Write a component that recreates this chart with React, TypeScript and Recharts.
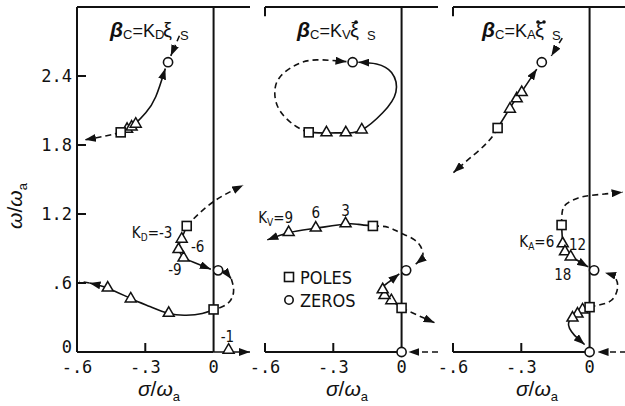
import React from 'react';
import { ComposedChart, Line, Scatter, XAxis, YAxis, ReferenceLine } from 'recharts';

// beta_C = K_D xi_S
const kdTopIn = [[-0.15, 2.75], [-0.188, 2.575]];
const kdUpperSolid = [[-0.408, 1.91], [-0.38, 1.945], [-0.36, 1.965], [-0.342, 1.99], [-0.298, 2.08], [-0.254, 2.22], [-0.212, 2.465]];
const kdUpperOut = [[-0.408, 1.91], [-0.47, 1.88], [-0.565, 1.845]];
const kdMidOut = [[-0.118, 1.096], [-0.057, 1.217], [0.009, 1.32], [0.07, 1.39], [0.13, 1.45]];
const kdMidSolid = [[-0.118, 1.096], [-0.14, 0.99], [-0.154, 0.9], [-0.132, 0.826], [-0.088, 0.78], [-0.012, 0.72]];
const kdLoopA = [[0.02, 0.71], [0.05, 0.695], [0.078, 0.635]];
const kdLoopB = [[0.078, 0.635], [0.088, 0.54], [0.075, 0.45], [0.04, 0.395], [0, 0.37]];
const kdLower = [[0, 0.37], [-0.05, 0.335], [-0.12, 0.32], [-0.197, 0.335], [-0.28, 0.395], [-0.364, 0.465], [-0.465, 0.555], [-0.545, 0.6]];
const kdLowerTail = [[-0.545, 0.6], [-0.59, 0.615]];
const kdReal = [[0, 0], [0.16, 0]];
const kdPoles = [[-0.408, 1.91], [-0.118, 1.096], [0, 0.37]];
const kdZeros = [[-0.2, 2.52], [0.02, 0.71]];
const kdGains = [[-0.38, 1.945], [-0.36, 1.965], [-0.342, 1.99], [-0.14, 0.99], [-0.154, 0.9], [-0.132, 0.826], [-0.197, 0.345], [-0.364, 0.47], [-0.465, 0.565], [0.066, 0.025]];
const kdNotes = [
  { x: -0.27, y: 1.035, k: 'D', v: '-3' },
  { x: -0.07, y: 0.913, v: '-6' },
  { x: -0.17, y: 0.713, v: '-9' },
  { x: 0.061, y: 0.13, v: '-1' },
];

// beta_C = K_V xi_S dot
const kvLoopSolid = [[-0.408, 1.91], [-0.33, 1.905], [-0.245, 1.905], [-0.175, 1.93], [-0.083, 2.08], [-0.025, 2.26], [-0.044, 2.43], [-0.11, 2.505], [-0.19, 2.52]];
const kvLoopDash = [[-0.408, 1.91], [-0.47, 1.97], [-0.535, 2.1], [-0.557, 2.25], [-0.535, 2.39], [-0.46, 2.5], [-0.373, 2.54], [-0.242, 2.525]];
const kvUpper = [[-0.126, 1.096], [-0.19, 1.11], [-0.246, 1.113], [-0.377, 1.076], [-0.496, 1.037], [-0.59, 0.975]];
const kvArc = [[-0.126, 1.096], [-0.06, 1.085], [-0.009, 1.04], [0.057, 0.975], [0.09, 0.89], [0.09, 0.82], [0.062, 0.765]];
const kvInner = [[0, 0.383], [-0.045, 0.45], [-0.075, 0.5], [-0.085, 0.555], [-0.055, 0.61], [-0.01, 0.68]];
const kvOut = [[0, 0.383], [0.07, 0.32], [0.145, 0.255]];
const kvReal = [[0.16, 0], [0.03, 0]];
const kvPoles = [[-0.408, 1.91], [-0.126, 1.096], [0, 0.383]];
const kvZeros = [[-0.215, 2.52], [0.02, 0.71], [0, 0]];
const kvGains = [[-0.33, 1.915], [-0.245, 1.915], [-0.175, 1.94], [-0.246, 1.123], [-0.377, 1.086], [-0.496, 1.047], [-0.045, 0.455], [-0.075, 0.5], [-0.083, 0.55]];
const kvNotes = [
  { x: -0.553, y: 1.165, k: 'V', v: '9' },
  { x: -0.377, y: 1.21, v: '6' },
  { x: -0.246, y: 1.226, v: '3' },
];

// beta_C = K_A xi_S double dot
const kaTopIn = [[-0.12, 2.73], [-0.168, 2.575]];
const kaUpperSolid = [[-0.404, 1.948], [-0.35, 2.12], [-0.32, 2.21], [-0.298, 2.265], [-0.232, 2.46]];
const kaUpperOut = [[-0.404, 1.948], [-0.45, 1.82], [-0.535, 1.67], [-0.598, 1.56]];
const kaMidOut = [[-0.123, 1.104], [-0.12, 1.22], [-0.1, 1.29], [-0.05, 1.34], [0, 1.36], [0.07, 1.375], [0.145, 1.39]];
const kaMidSolid = [[-0.123, 1.104], [-0.118, 0.95], [-0.108, 0.88], [-0.083, 0.835], [-0.04, 0.78], [-0.006, 0.74]];
const kaLoop = [[0, 0.39], [0.044, 0.41], [0.096, 0.45], [0.123, 0.556], [0.11, 0.65], [0.068, 0.69]];
const kaLower = [[0, 0.39], [-0.031, 0.37], [-0.053, 0.335], [-0.075, 0.3], [-0.092, 0.255], [-0.088, 0.205], [-0.066, 0.145], [-0.022, 0.065]];
const kaReal = [[0.16, 0], [0.035, 0]];
const kaPoles = [[-0.404, 1.948], [-0.123, 1.104], [0, 0.39]];
const kaZeros = [[-0.21, 2.52], [0.02, 0.71], [0, 0]];
const kaGains = [[-0.35, 2.12], [-0.32, 2.21], [-0.298, 2.265], [-0.118, 0.95], [-0.108, 0.88], [-0.083, 0.835], [-0.031, 0.374], [-0.053, 0.339], [-0.075, 0.304]];
const kaNotes = [
  { x: -0.232, y: 0.957, k: 'A', v: '6' },
  { x: -0.053, y: 0.93, v: '12' },
  { x: -0.118, y: 0.67, v: '18' },
];

const sigmaTicks = [-0.6, -0.3, 0];
const omegaTicks = [0, 0.6, 1.2, 1.8, 2.4];

const INK = '#111';
const PLOT_W = 173;
const TICK_FONT = "'DejaVu Sans Mono', monospace";
const TEXT_FONT = "'Liberation Sans Narrow', 'DejaVu Sans Condensed', 'Liberation Sans', sans-serif";
const TITLE_FONT = "'Liberation Sans', Arial, sans-serif";

const xy = (a: number[][]) => a.map(([x, y]) => ({ x, y }));

type Branch = { pts: number[][]; dash?: boolean; arrow?: boolean };

const kdBranches: Branch[] = [
  { pts: kdTopIn, dash: true, arrow: true },
  { pts: kdUpperSolid, arrow: true },
  { pts: kdUpperOut, dash: true, arrow: true },
  { pts: kdMidOut, dash: true, arrow: true },
  { pts: kdMidSolid, arrow: true },
  { pts: kdLoopA, dash: true, arrow: true },
  { pts: kdLoopB, dash: true },
  { pts: kdLower, arrow: true },
  { pts: kdLowerTail, dash: true },
  { pts: kdReal, arrow: true },
];
const kvBranches: Branch[] = [
  { pts: kvLoopSolid, arrow: true },
  { pts: kvLoopDash, dash: true, arrow: true },
  { pts: kvUpper, arrow: true },
  { pts: kvArc, dash: true, arrow: true },
  { pts: kvInner, arrow: true },
  { pts: kvOut, dash: true, arrow: true },
  { pts: kvReal, dash: true, arrow: true },
];
const kaBranches: Branch[] = [
  { pts: kaTopIn, dash: true, arrow: true },
  { pts: kaUpperSolid, arrow: true },
  { pts: kaUpperOut, dash: true, arrow: true },
  { pts: kaMidOut, dash: true, arrow: true },
  { pts: kaMidSolid, arrow: true },
  { pts: kaLoop, dash: true, arrow: true },
  { pts: kaLower, arrow: true },
  { pts: kaReal, dash: true, arrow: true },
];

const fmt = (v: number) => (v === 0 ? '0' : v.toFixed(1).replace('0.', '.'));

function SigmaTick(props: any) {
  const { x, y, payload } = props;
  const v = payload.value;
  return (
    <g>
      {v !== 0 && <line x1={x} x2={x} y1={y} y2={y - 9} stroke={INK} strokeWidth={2} />}
      <text x={x} y={y + 21} textAnchor="middle" fontFamily={TICK_FONT} fontSize={17} fill={INK}>
        {fmt(v)}
      </text>
    </g>
  );
}

function OmegaTick(props: any) {
  const { x, y, payload } = props;
  const v = payload.value;
  return (
    <g>
      {v !== 0 && <line x1={x} x2={x + 9} y1={y} y2={y} stroke={INK} strokeWidth={2} />}
      <text x={x - 5} y={v === 0 ? y + 1 : y + 6} textAnchor="end" fontFamily={TICK_FONT} fontSize={17} fill={INK}>
        {fmt(v)}
      </text>
    </g>
  );
}

const PoleShape = (p: any) => (
  <rect x={p.cx - 4.5} y={p.cy - 4.5} width={9} height={9} fill="#fff" stroke={INK} strokeWidth={1.6} />
);
const ZeroShape = (p: any) => <circle cx={p.cx} cy={p.cy} r={4.6} fill="#fff" stroke={INK} strokeWidth={1.6} />;
const GainShape = (p: any) => (
  <path
    d={`M${p.cx},${p.cy - 5.5} L${p.cx + 5.5},${p.cy + 4} L${p.cx - 5.5},${p.cy + 4} Z`}
    fill="#fff"
    stroke={INK}
    strokeWidth={1.5}
  />
);
const NoteShape = (p: any) => {
  const d = p.payload;
  return (
    <text x={p.cx} y={p.cy + 5} textAnchor="middle" fontFamily={TEXT_FONT} fontSize={15} fill={INK}>
      {d.k ? (
        <>
          K
          <tspan fontSize={10} dy={3}>
            {d.k}
          </tspan>
          <tspan dy={-3}>={d.v}</tspan>
        </>
      ) : (
        d.v
      )}
    </text>
  );
};

type PanelProps = {
  left: number;
  first?: boolean;
  branches: Branch[];
  poles: number[][];
  zeros: number[][];
  gains: number[][];
  notes: { x: number; y: number; k?: string; v: string }[];
};

function Panel({ left, first, branches, poles, zeros, gains, notes }: PanelProps) {
  const padLeft = first ? 0 : 15;
  const width = (first ? 77 : padLeft) + PLOT_W + 8;
  return (
    <div style={{ position: 'absolute', left, top: 0 }}>
      <ComposedChart width={width} height={406} margin={{ top: 7, right: 8, bottom: 0, left: padLeft }}>
        <XAxis
          type="number"
          dataKey="x"
          domain={[-0.6, 0.16]}
          ticks={sigmaTicks}
          interval={0}
          height={54}
          axisLine={false}
          tickLine={false}
          tickSize={0}
          tickMargin={0}
          tick={<SigmaTick />}
        />
        <YAxis
          type="number"
          dataKey="y"
          domain={[0, 3]}
          ticks={omegaTicks}
          interval={0}
          hide={!first}
          width={77}
          axisLine={false}
          tickLine={false}
          tickSize={0}
          tickMargin={0}
          tick={<OmegaTick />}
        />
        <ReferenceLine y={3} stroke={INK} strokeWidth={2} />
        <ReferenceLine x={0} stroke={INK} strokeWidth={2} />
        <ReferenceLine segment={[{ x: -0.6, y: 0 }, { x: 0, y: 0 }]} stroke={INK} strokeWidth={2} />
        {first ? (
          <ReferenceLine x={-0.6} stroke={INK} strokeWidth={2} />
        ) : (
          <ReferenceLine segment={[{ x: -0.6, y: 2.92 }, { x: -0.6, y: 3 }]} stroke={INK} strokeWidth={2} />
        )}
        {branches.map((b, i) => (
          <Line
            key={i}
            data={xy(b.pts)}
            dataKey="y"
            type="natural"
            stroke={INK}
            strokeWidth={1.6}
            strokeDasharray={b.dash ? '6 4' : undefined}
            markerEnd={b.arrow ? 'url(#arrowHead)' : undefined}
            dot={false}
            activeDot={false}
            isAnimationActive={false}
          />
        ))}
        <Scatter data={xy(gains)} shape={GainShape} isAnimationActive={false} />
        <Scatter data={xy(poles)} shape={PoleShape} isAnimationActive={false} />
        <Scatter data={xy(zeros)} shape={ZeroShape} isAnimationActive={false} />
        <Scatter data={notes} shape={NoteShape} isAnimationActive={false} />
      </ComposedChart>
    </div>
  );
}

// panel heading: beta_C = K_? xi_S with 0, 1 or 2 dots over xi
function Title({ x, k, dots }: { x: number; k: string; dots: number }) {
  const dotXs = dots === 1 ? [x + 59] : dots === 2 ? [x + 56, x + 62] : [];
  return (
    <g fill={INK} fontFamily={TITLE_FONT}>
      <text x={x} y={37} fontSize={18}>
        <tspan fontSize={21} fontStyle="italic" fontWeight="bold">
          β
        </tspan>
        <tspan fontSize={13} dy={2}>
          C
        </tspan>
        <tspan dy={-2}>=K</tspan>
        <tspan fontSize={13} dy={2}>
          {k}
        </tspan>
      </text>
      <text x={x + 53} y={37} fontSize={20}>
        ξ
      </text>
      {dotXs.map((dx) => (
        <circle key={dx} cx={dx} cy={22} r={1.8} />
      ))}
      <text x={x + 70} y={40} fontSize={13}>
        S
      </text>
    </g>
  );
}

function SigmaTitle({ cx }: { cx: number }) {
  return (
    <text x={cx} y={396} textAnchor="middle" fontFamily={TITLE_FONT} fontSize={21} fill={INK}>
      <tspan fontStyle="italic">σ</tspan>/<tspan fontStyle="italic">ω</tspan>
      <tspan fontSize={13} dy={5}>
        a
      </tspan>
    </text>
  );
}

function Overlay() {
  return (
    <svg width={625} height={406} style={{ position: 'absolute', left: 0, top: 0, pointerEvents: 'none' }}>
      <defs>
        <marker
          id="arrowHead"
          viewBox="0 0 11 8"
          refX={11}
          refY={4}
          markerWidth={11}
          markerHeight={8}
          markerUnits="userSpaceOnUse"
          orient="auto"
        >
          <path d="M0,0 L11,4 L0,8 Z" fill={INK} />
        </marker>
      </defs>
      <Title x={110} k="D" dots={0} />
      <Title x={297} k="V" dots={1} />
      <Title x={482} k="A" dots={2} />
      <SigmaTitle cx={159} />
      <SigmaTitle cx={347} />
      <SigmaTitle cx={537} />
      <text transform="translate(22,206) rotate(-90)" textAnchor="middle" fontFamily={TITLE_FONT} fontSize={21} fill={INK}>
        <tspan fontStyle="italic">ω</tspan>/<tspan fontStyle="italic">ω</tspan>
        <tspan fontSize={13} dy={5}>
          a
        </tspan>
      </text>
      <rect x={284.5} y={272.5} width={9} height={9} fill="#fff" stroke={INK} strokeWidth={1.6} />
      <text x={300} y={284} fontFamily={TEXT_FONT} fontSize={18} fill={INK}>
        POLES
      </text>
      <circle cx={289} cy={300} r={4.2} fill="#fff" stroke={INK} strokeWidth={1.6} />
      <text x={300} y={307} fontFamily={TEXT_FONT} fontSize={18} fill={INK}>
        ZEROS
      </text>
    </svg>
  );
}

export default function App() {
  return (
    <div style={{ position: 'absolute', left: 0, top: 0, width: 625, height: 406, background: '#fff', overflow: 'hidden' }}>
      <Panel left={0} first branches={kdBranches} poles={kdPoles} zeros={kdZeros} gains={kdGains} notes={kdNotes} />
      <Panel left={250} branches={kvBranches} poles={kvPoles} zeros={kvZeros} gains={kvGains} notes={kvNotes} />
      <Panel left={438} branches={kaBranches} poles={kaPoles} zeros={kaZeros} gains={kaGains} notes={kaNotes} />
      <Overlay />
    </div>
  );
}
